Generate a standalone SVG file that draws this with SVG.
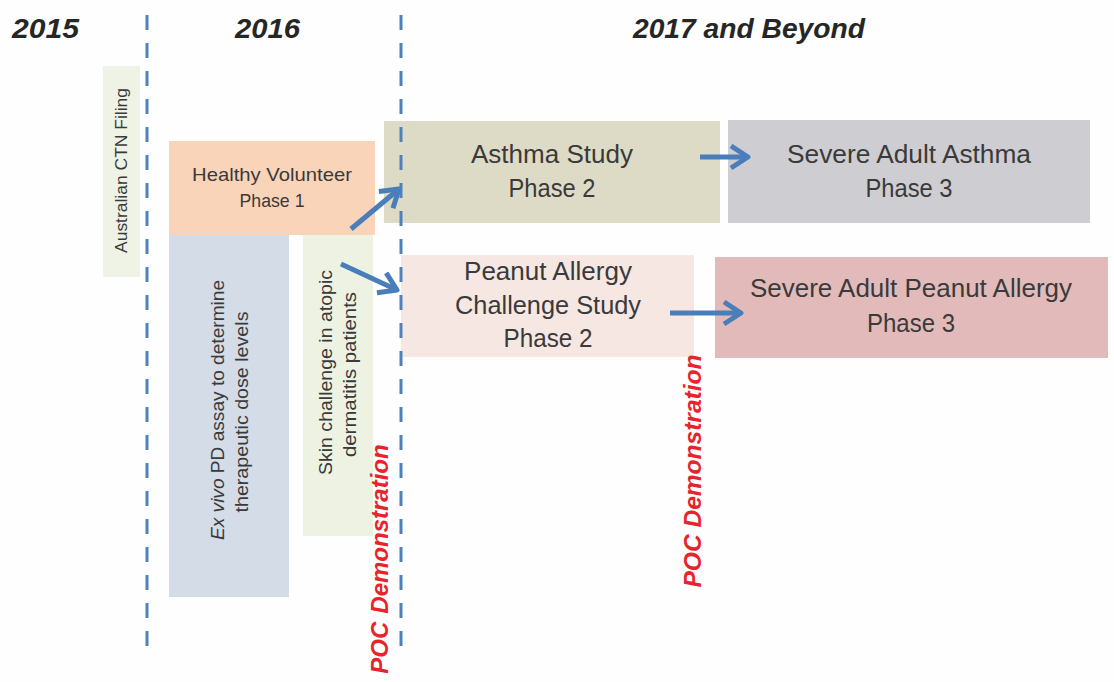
<svg xmlns="http://www.w3.org/2000/svg" width="1114" height="682" viewBox="0 0 1114 682">
<style>
.hdr{font-family:"Liberation Sans",Arial,sans-serif;font-weight:bold;font-style:italic;font-size:27px;fill:#262626}
.lbl{font-family:"Liberation Sans",Arial,sans-serif;fill:#3a3a3a;text-anchor:middle}
.big{font-size:25px}
.mid{font-size:19px}
.sm{font-size:18.5px}
.poc{font-family:"Liberation Sans",Arial,sans-serif;font-weight:bold;font-style:italic;font-size:24px;fill:#e8232b;text-anchor:middle}
.dash{stroke:#4f81bd;stroke-width:3;stroke-dasharray:15 13;fill:none}
.arr{stroke:#4a7ebb;stroke-width:5;fill:none;marker-end:url(#ah)}
</style>
<defs>
<marker id="ah" markerUnits="userSpaceOnUse" markerWidth="26" markerHeight="30" refX="20" refY="13" orient="auto" viewBox="0 0 26 30">
<path d="M3,2 L20,13 L3,24" fill="none" stroke="#4a7ebb" stroke-width="5" stroke-linejoin="round"/>
</marker>
</defs>
<rect x="0" y="0" width="1114" height="682" fill="#fdfefd"/>

<g id="headers">
<text class="hdr" x="12" y="38" textLength="67" lengthAdjust="spacingAndGlyphs">2015</text>
<text class="hdr" x="235" y="38" textLength="65" lengthAdjust="spacingAndGlyphs">2016</text>
<text class="hdr" x="633" y="38" textLength="232" lengthAdjust="spacingAndGlyphs">2017 and Beyond</text>
</g>

<g id="ctn">
<rect x="103" y="66" width="37" height="211" fill="#eef3e5"/>
<text class="lbl" font-size="16" transform="translate(127,170.5) rotate(-90)" textLength="165" lengthAdjust="spacingAndGlyphs">Australian CTN Filing</text>
</g>

<g id="healthy">
<rect x="169" y="141" width="206" height="94" fill="#f9d4b9"/>
<text class="lbl mid" x="272" y="181" textLength="160" lengthAdjust="spacingAndGlyphs">Healthy Volunteer</text>
<text class="lbl mid" x="272" y="207" textLength="65" lengthAdjust="spacingAndGlyphs">Phase 1</text>
</g>

<g id="exvivo">
<rect x="169" y="235" width="120" height="362" fill="#d3dce7"/>
<text class="lbl sm" transform="translate(224,410) rotate(-90)" textLength="260" lengthAdjust="spacingAndGlyphs"><tspan font-style="italic">Ex vivo</tspan> PD assay to determine</text>
<text class="lbl sm" transform="translate(248,412) rotate(-90)" textLength="201" lengthAdjust="spacingAndGlyphs">therapeutic dose levels</text>
</g>

<g id="skin">
<rect x="303" y="235" width="70" height="301" fill="#edf2e3"/>
<text class="lbl sm" transform="translate(332,372.5) rotate(-90)" textLength="205" lengthAdjust="spacingAndGlyphs">Skin challenge in atopic</text>
<text class="lbl sm" transform="translate(356,374.5) rotate(-90)" textLength="165" lengthAdjust="spacingAndGlyphs">dermatitis patients</text>
</g>

<g id="asthma">
<rect x="384" y="121" width="336" height="102" fill="#dddbc6"/>
<text class="lbl big" x="552" y="163" textLength="162" lengthAdjust="spacingAndGlyphs">Asthma Study</text>
<text class="lbl big" x="552" y="197" textLength="87" lengthAdjust="spacingAndGlyphs">Phase 2</text>
</g>

<g id="severe-asthma">
<rect x="728" y="120" width="362" height="103" fill="#cecdd2"/>
<text class="lbl big" x="909" y="163" textLength="244" lengthAdjust="spacingAndGlyphs">Severe Adult Asthma</text>
<text class="lbl big" x="909" y="197" textLength="87" lengthAdjust="spacingAndGlyphs">Phase 3</text>
</g>

<g id="peanut">
<rect x="401" y="255" width="293" height="102" fill="#f6e7e3"/>
<text class="lbl big" x="548" y="280" textLength="168" lengthAdjust="spacingAndGlyphs">Peanut Allergy</text>
<text class="lbl big" x="548" y="314" textLength="186" lengthAdjust="spacingAndGlyphs">Challenge Study</text>
<text class="lbl big" x="548" y="347" textLength="89" lengthAdjust="spacingAndGlyphs">Phase 2</text>
</g>

<g id="severe-peanut">
<rect x="715" y="257" width="393" height="101" fill="#e3baba"/>
<text class="lbl big" x="911" y="297" textLength="322" lengthAdjust="spacingAndGlyphs">Severe Adult Peanut Allergy</text>
<text class="lbl big" x="911" y="332" textLength="88" lengthAdjust="spacingAndGlyphs">Phase 3</text>
</g>

<g id="poc-labels">
<text class="poc" transform="translate(388,559) rotate(-90)">POC<tspan dx="8">Demonstration</tspan></text>
<text class="poc" transform="translate(701,471) rotate(-90)" textLength="233" lengthAdjust="spacingAndGlyphs">POC Demonstration</text>
</g>

<g id="connectors">
<line class="dash" x1="147" y1="15" x2="147" y2="653"/>
<line class="dash" x1="401" y1="15" x2="401" y2="653"/>
<line class="arr" x1="351" y1="229" x2="399" y2="189"/>
<line class="arr" x1="341" y1="264" x2="397" y2="290"/>
<line class="arr" x1="700" y1="157" x2="748" y2="157"/>
<line class="arr" x1="670" y1="313" x2="741" y2="313"/>
</g>
</svg>
